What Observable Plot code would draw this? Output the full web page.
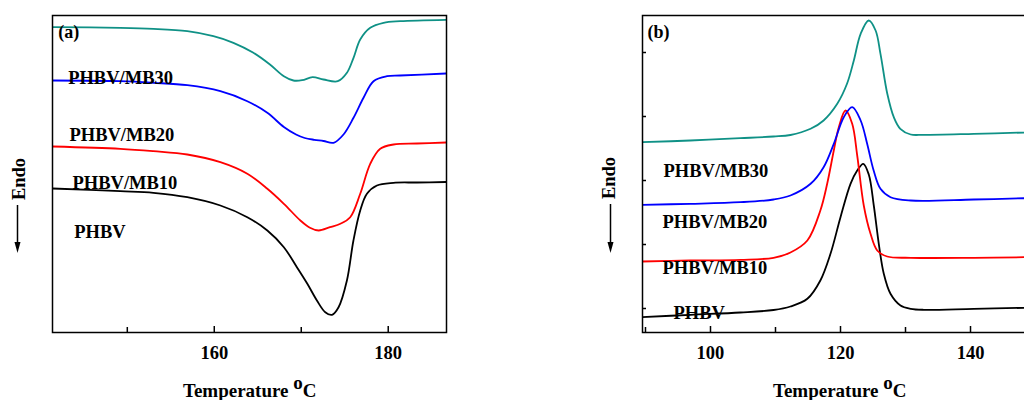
<!DOCTYPE html>
<html>
<head>
<meta charset="utf-8">
<script src="https://cdn.jsdelivr.net/npm/d3@7"></script>
<script src="https://cdn.jsdelivr.net/npm/@observablehq/plot@0.6"></script>
<style>
html,body{margin:0;padding:0;width:1024px;height:400px;overflow:hidden;background:#fff;}
body{position:relative;font-family:"Liberation Serif","Times New Roman",serif;font-weight:bold;color:#000;}
#pa{position:absolute;left:0;top:0;width:460px;}
#pb{position:absolute;left:590px;top:0;width:445px;}
.xl{position:absolute;font-size:19px;line-height:19px;white-space:nowrap;}
.xl .sup{position:relative;top:-8px;}
.endo{position:absolute;font-size:18.5px;line-height:18px;white-space:nowrap;transform:translate(-50%,-50%) rotate(-90deg);}
#ov{position:absolute;left:0;top:0;pointer-events:none;}
</style>
</head>
<body>
<div id="pa"></div>
<div id="pb"></div>
<div class="xl" style="left:183px;top:381px;">Temperature <span class="sup">o</span>C</div>
<div class="xl" style="left:773px;top:381px;">Temperature <span class="sup">o</span>C</div>
<div class="endo" style="left:18.5px;top:179px;">Endo</div>
<div class="endo" style="left:608.5px;top:177.5px;">Endo</div>
<svg id="ov" width="1024" height="400">
  <line x1="17.5" y1="205" x2="17.5" y2="244" stroke="#000" stroke-width="1.5"/>
  <path d="M14.5,242 L20.5,242 L17.5,253 Z" fill="#000"/>
  <line x1="610.5" y1="204" x2="610.5" y2="244" stroke="#000" stroke-width="1.5"/>
  <path d="M607.5,242 L613.5,242 L610.5,253 Z" fill="#000"/>
</svg>
<script>
// ---------- Panel (a): melting, Temperature (°C) vs heat flow (a.u.) ----------
const aPHBV = [[141.4,144],[149.2,141.3],[153.0,139.7],[156.9,135.3],[160.7,127],[163.8,115.3],[166.1,102],[168.0,85.3],[169.5,65.3],[170.7,48.7],[171.8,32],[172.76,20.3],[173.53,17.7],[174.29,25.3],[175.25,52],[176.0,92],[176.78,122],[177.55,138.7],[178.7,147],[180.6,149.7],[183.3,150],[186.7,150.5]];
const aMB10 = [[141.4,186],[149.2,183.7],[153.0,181.3],[156.9,178],[160.7,170.3],[163.8,158.7],[166.1,143.7],[168.0,128.7],[169.9,112],[171.0,104.7],[172.0,102],[173.3,105.3],[174.5,108.7],[175.63,115.3],[176.78,138.7],[177.93,168.7],[179.08,183.7],[180.61,188],[183.3,189],[186.7,190]];
const aMB20 = [[141.4,252],[149.2,251.3],[153.0,249.7],[156.9,247.3],[160.7,241.3],[163.8,231.3],[166.1,219.7],[168.0,205.5],[169.4,198],[170.4,194.5],[171.5,192.7],[172.56,191.5],[173.71,189.7],[174.86,198],[176.01,214.7],[177.16,234.7],[178.31,251.3],[179.85,256.3],[181.38,257],[186.7,259]];
const aMB30 = [[141.4,305.3],[149.2,304.7],[153.0,303.7],[156.9,301.3],[159.9,296.3],[162.2,289.7],[164.5,279.7],[166.4,268],[168.0,256.3],[169.1,252],[170.1,252.3],[171.3,255.3],[172.56,253],[174.2,251.3],[175.25,259.7],[176.01,274.7],[176.78,293],[177.93,304.7],[179.46,309.7],[181.38,311.3],[186.7,312.7]];

// ---------- Panel (b): crystallization ----------
const bPHBV = [[89.5,15.3],[96.9,17.7],[104.6,20],[109.7,22.5],[112.3,26],[114.9,33.7],[116.9,52],[118.46,78.7],[120.0,115.3],[121.54,148.7],[122.57,162],[123.5,168.7],[124.35,158],[125.12,127],[125.89,88.7],[126.66,58.7],[127.69,38.7],[129.23,27],[130.8,23.7],[132.8,22.7],[140.5,23.7],[148.4,24.7]];
const bMB10 = [[89.5,71],[96.9,72],[104.6,72.7],[109.7,74.7],[112.3,80],[114.9,92],[116.9,122],[117.95,148.7],[118.97,182],[119.74,205.3],[120.77,222],[121.8,208.7],[122.57,177],[123.58,127],[124.62,98.7],[125.65,82],[127.18,76],[130.8,74.7],[140.5,74.7],[148.4,75.3]];
const bMB20 = [[89.5,127.7],[96.9,128.7],[104.6,130.3],[109.7,133],[112.3,137],[115.4,148.7],[117.4,165.3],[118.97,188.7],[120.5,215.3],[121.8,225.3],[123.1,212],[124.1,188.7],[125.1,162],[126.15,143.7],[127.7,135.3],[130.8,132],[140.5,133],[148.4,134.3]];
const bMB30 = [[89.5,190.3],[96.9,192],[104.6,194.3],[109.7,196],[112.3,197.5],[115.4,203.7],[117.4,212],[119.5,228.7],[121.0,248.7],[122.05,272],[123.1,298.7],[124.35,312],[125.4,302],[126.15,278.7],[127.2,238.7],[128.2,215.3],[129.2,203.7],[130.8,198],[132.8,197.7],[140.5,198.7],[148.4,200]];

// ---------- ticks ----------
const aMajorTicks = [160, 180];
const aMinorTicks = [150, 170];
const bMajorTicks = [100, 120, 140];
const bMinorTicks = [90, 110, 130];
const bYTicks = [24, 88, 152, 216, 280];

// ---------- series labels (name, temperature, heat-flow anchor) ----------
const seriesNames = ["PHBV", "PHBV/MB10", "PHBV/MB20", "PHBV/MB30"];
const seriesColors = ["#000000", "#ff0000", "#0000ff", "#0f9186"];
const aLabelT = [143.9, 143.7, 143.35, 143.2];
const aLabelV = [95, 144, 192, 249];
const bLabelT = [94.3, 92.62, 92.62, 92.77];
const bLabelV = [14, 59, 105, 156];
const panelTags = ["(a)", "(b)"];
const tagT = [142.07, 90.31];
const tagV = [295, 295];

const FONT = '"Liberation Serif","Times New Roman",serif';

function panel(series, opts) {
  const {width, height, marginLeft, marginRight, marginTop, marginBottom, xDomain, major, minor, yTicks, labelT, labelV, tag, tagX, tagY} = opts;
  const innerH = height - marginTop - marginBottom;
  const innerW = width - marginLeft - marginRight;
  const labels = seriesNames.map((n, i) => ({n, t: labelT[i], v: labelV[i]}));
  const marks = [
    ...series.map((s, i) => Plot.line(s, {x: d => d[0], y: d => d[1], stroke: seriesColors[i], strokeWidth: 1.8, curve: "catmull-rom", clip: true})),
    Plot.ruleX(major, {x: d => d, stroke: "#000", strokeWidth: 1.5, insetTop: innerH - 6}),
    Plot.ruleX(minor, {x: d => d, stroke: "#000", strokeWidth: 1.5, insetTop: innerH - 5}),
    Plot.axisX(major, {tickSize: 0, tickPadding: 13, label: null, fontSize: 18.5, fontWeight: "bold"}),
    Plot.text(labels, {x: "t", y: "v", text: "n", textAnchor: "start", lineAnchor: "bottom", fontSize: 18.5, fontWeight: "bold", fill: "#000"}),
    Plot.text([tag], {x: () => tagX, y: () => tagY, text: d => d, textAnchor: "start", lineAnchor: "bottom", fontSize: 18, fontWeight: "bold", fill: "#000"}),
    Plot.frame({stroke: "#000", strokeWidth: 1.5})
  ];
  if (yTicks) marks.push(Plot.ruleY(yTicks, {y: d => d, stroke: "#000", strokeWidth: 1.5, insetRight: innerW - 4}));
  return Plot.plot({
    width, height, marginLeft, marginRight, marginTop, marginBottom,
    x: {domain: xDomain},
    y: {domain: [0, 317], axis: null},
    style: {fontFamily: FONT, fontWeight: "bold", color: "#000", background: "transparent", overflow: "visible", maxWidth: "none"},
    marks
  });
}

document.getElementById("pa").appendChild(panel([aPHBV, aMB10, aMB20, aMB30], {
  width: 460, height: 400, marginLeft: 52, marginRight: 14, marginTop: 15, marginBottom: 68,
  xDomain: [141.4, 186.7], major: aMajorTicks, minor: aMinorTicks, yTicks: null,
  labelT: aLabelT, labelV: aLabelV, tag: panelTags[0], tagX: tagT[0], tagY: tagV[0]
}));

document.getElementById("pb").appendChild(panel([bPHBV, bMB10, bMB20, bMB30], {
  width: 445, height: 400, marginLeft: 52, marginRight: 10, marginTop: 15, marginBottom: 68,
  xDomain: [89.54, 148.46], major: bMajorTicks, minor: bMinorTicks, yTicks: bYTicks,
  labelT: bLabelT, labelV: bLabelV, tag: panelTags[1], tagX: tagT[1], tagY: tagV[1]
}));
</script>
</body>
</html>
